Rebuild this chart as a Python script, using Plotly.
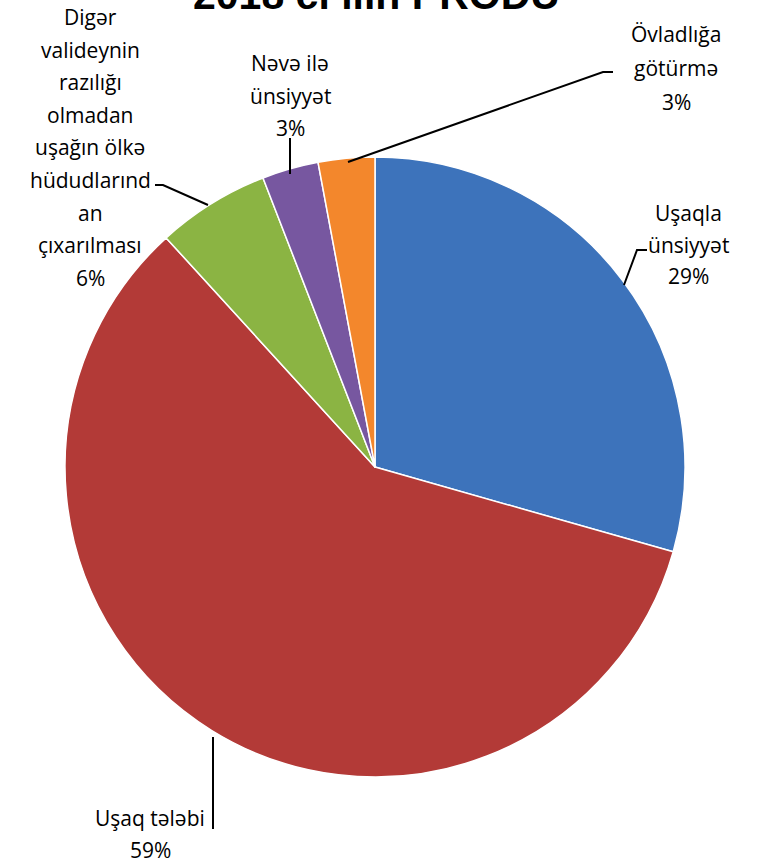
import plotly.graph_objects as go

W, H = 759, 865

# Data
categories = ["Uşaqla ünsiyyət", "Uşaq tələbi",
              "Digər valideynin razılığı olmadan uşağın ölkə hüdudlarından çıxarılması",
              "Nəvə ilə ünsiyyət", "Övladlığa götürmə"]
values = [10, 20, 2, 1, 1]
percent_labels = ["29%", "59%", "6%", "3%", "3%"]
colors = ["#3D73BB", "#B33A37", "#8BB443", "#7757A0", "#F3872C"]
title_text = "2018 ci ilin PRODU"

# label line breaks as shown in the chart
label_lines = [
    ["Uşaqla", "ünsiyyət"],
    ["Uşaq tələbi"],
    ["Digər", "valideynin", "razılığı", "olmadan", "uşağın ölkə", "hüdudlarınd", "an", "çıxarılması"],
    ["Nəvə ilə", "ünsiyyət"],
    ["Övladlığa", "götürmə"],
]


def px(x):
    return x / W


def py(y):
    return 1 - y / H


cx, cy, R = 375, 467, 310

fig = go.Figure(go.Pie(
    labels=categories, values=values, sort=False, direction="clockwise",
    rotation=0, marker=dict(colors=colors, line=dict(color="#FFFFFF", width=1.5)),
    textinfo="none", hoverinfo="label+percent", showlegend=False,
    domain=dict(x=[px(cx - R), px(cx + R)], y=[py(cy + R), py(cy - R)]),
))

# label placements (center x, first line y, line spacing) in pixels
label_pos = [
    (688, 213, 31.5),
    (150, 818, 32),
    (90, 17, 32.6),
    (290, 63, 32.5),
    (676, 34, 34),
]

font = dict(family="'Open Sans', 'Noto Sans', sans-serif", size=21, color="#000000")
ann = []
for lines, pct, (lx, ly, sp) in zip(label_lines, percent_labels, label_pos):
    allines = lines + [pct]
    for i, t in enumerate(allines):
        ann.append(dict(x=px(lx), y=py(ly + i * sp), xref="paper", yref="paper",
                        text=t, showarrow=False, xanchor="center", yanchor="middle",
                        font=font))

ann.append(dict(x=px(376), y=py(-5), xref="paper", yref="paper", text="<b>" + title_text + "</b>",
                showarrow=False, xanchor="center", yanchor="middle",
                font=dict(family="'Liberation Sans', Arial, sans-serif", size=41, color="#000000")))

# leader lines (pixel paths)
leaders = [
    [(647, 250), (637, 250), (624, 285)],
    [(213, 737), (213, 829)],
    [(155, 185), (163, 185), (208, 205)],
    [(290, 138), (290, 174)],
    [(613, 72), (603, 72), (348, 162)],
]
shapes = []
for pts in leaders:
    d = "M " + " L ".join(f"{px(x):.5f},{py(y):.5f}" for x, y in pts)
    shapes.append(dict(type="path", path=d, xref="paper", yref="paper",
                       line=dict(color="#000000", width=2)))

fig.update_layout(
    width=W, height=H, margin=dict(l=0, r=0, t=0, b=0),
    paper_bgcolor="#FFFFFF", plot_bgcolor="#FFFFFF",
    annotations=ann, shapes=shapes,
)

fig.write_html("out.html", config={"displayModeBar": False},
               post_script="document.body.style.margin='0';")
